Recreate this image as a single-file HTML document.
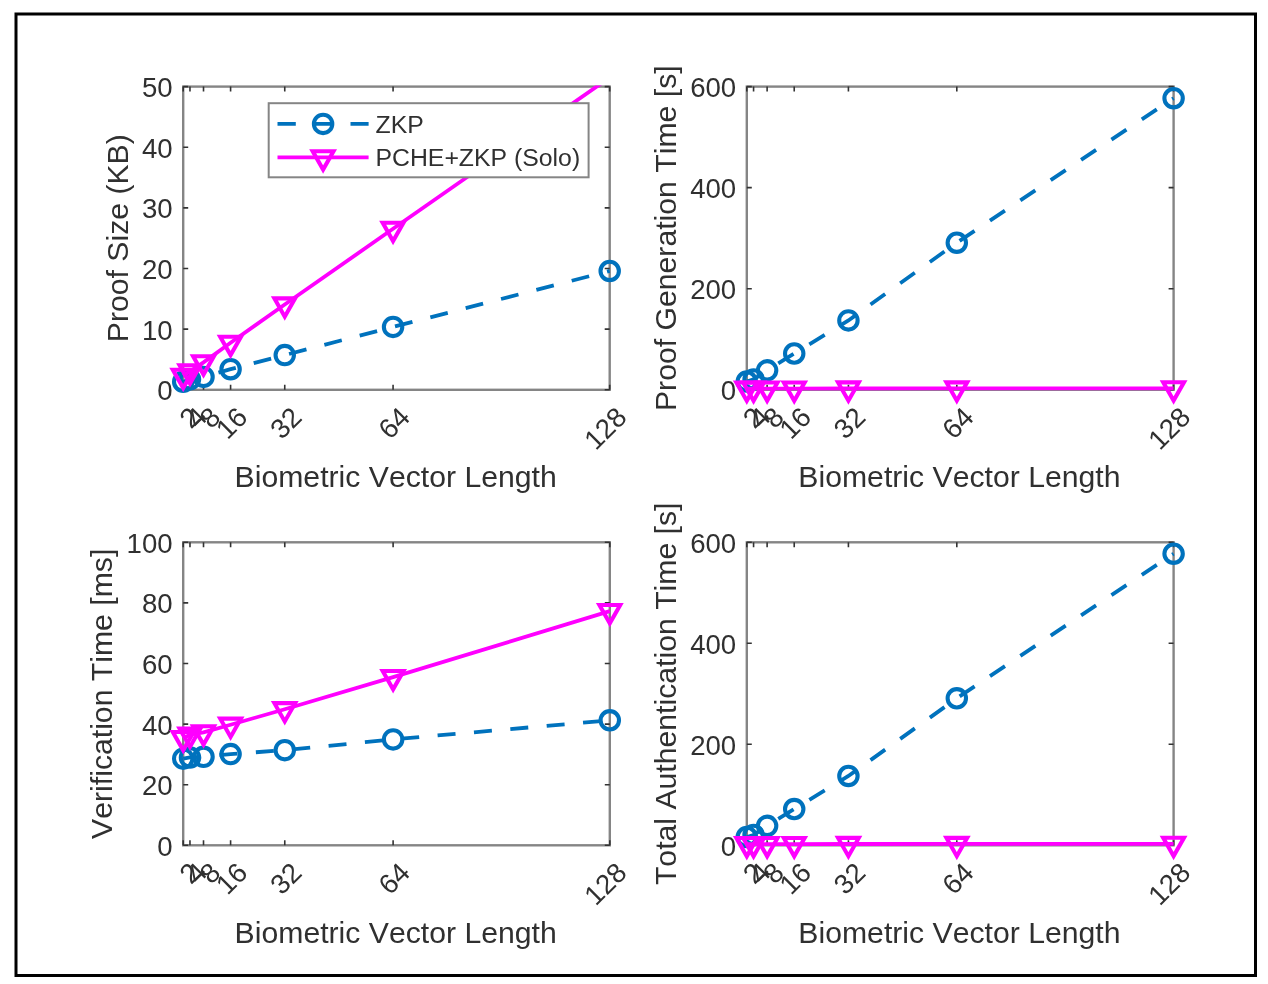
<!DOCTYPE html>
<html><head><meta charset="utf-8"><style>
html,body{margin:0;padding:0;background:#fff;width:1268px;height:984px;overflow:hidden}
svg{display:block;filter:blur(0.5px)}
text{font-family:"Liberation Sans",sans-serif;fill:#303030;font-kerning:none}
.t{font-size:27.6px}
.l{font-size:30.2px}
.g{font-size:24.8px}
</style></head><body>
<svg width="1268" height="984" viewBox="0 0 1268 984">
<rect x="0" y="0" width="1268" height="984" fill="#fff"/>
<rect x="16" y="14" width="1239.5" height="961.5" fill="none" stroke="#000" stroke-width="3"/>
<clipPath id="c0"><rect x="182.2" y="85.6" width="428.5" height="305.2"/></clipPath>
<rect x="183.2" y="86.6" width="426.5" height="303.2" fill="none" stroke="#858585" stroke-width="2.4"/>
<path d="M183.2 389.8v-5M183.2 86.6v5M189.97 389.8v-5M189.97 86.6v5M203.51 389.8v-5M203.51 86.6v5M230.59 389.8v-5M230.59 86.6v5M284.75 389.8v-5M284.75 86.6v5M393.07 389.8v-5M393.07 86.6v5M609.7 389.8v-5M609.7 86.6v5M183.2 389.8h5M609.7 389.8h-5M183.2 329.16h5M609.7 329.16h-5M183.2 268.52h5M609.7 268.52h-5M183.2 207.88h5M609.7 207.88h-5M183.2 147.24h5M609.7 147.24h-5M183.2 86.6h5M609.7 86.6h-5" stroke="#333" stroke-width="1.6" fill="none"/>
<text x="172.6" y="390.8" text-anchor="end" dominant-baseline="central" class="t">0</text>
<text x="172.6" y="330.16" text-anchor="end" dominant-baseline="central" class="t">10</text>
<text x="172.6" y="269.52" text-anchor="end" dominant-baseline="central" class="t">20</text>
<text x="172.6" y="208.88" text-anchor="end" dominant-baseline="central" class="t">30</text>
<text x="172.6" y="148.24" text-anchor="end" dominant-baseline="central" class="t">40</text>
<text x="172.6" y="87.6" text-anchor="end" dominant-baseline="central" class="t">50</text>
<text transform="translate(201.8 418.8) rotate(-45)" text-anchor="end" class="t">2</text>
<text transform="translate(208.57 418.8) rotate(-45)" text-anchor="end" class="t">4</text>
<text transform="translate(222.11 418.8) rotate(-45)" text-anchor="end" class="t">8</text>
<text transform="translate(249.19 418.8) rotate(-45)" text-anchor="end" class="t">16</text>
<text transform="translate(303.35 418.8) rotate(-45)" text-anchor="end" class="t">32</text>
<text transform="translate(411.67 418.8) rotate(-45)" text-anchor="end" class="t">64</text>
<text transform="translate(628.3 418.8) rotate(-45)" text-anchor="end" class="t">128</text>
<text x="395.65" y="487" text-anchor="middle" class="l">Biometric Vector Length</text>
<text transform="translate(127.5 238.2) rotate(-90)" text-anchor="middle" class="l">Proof Size (KB)</text>
<g clip-path="url(#c0)"><polyline points="183.2,381.8 189.97,379.37 203.51,376.88 230.59,369.18 284.75,355.11 393.07,326.92 609.7,270.95" fill="none" stroke="#0072BD" stroke-width="3.8" stroke-dasharray="18 18.5"/></g><g><circle cx="183.2" cy="381.8" r="9.2" fill="none" stroke="#0072BD" stroke-width="4.1"/><circle cx="189.97" cy="379.37" r="9.2" fill="none" stroke="#0072BD" stroke-width="4.1"/><circle cx="203.51" cy="376.88" r="9.2" fill="none" stroke="#0072BD" stroke-width="4.1"/><circle cx="230.59" cy="369.18" r="9.2" fill="none" stroke="#0072BD" stroke-width="4.1"/><circle cx="284.75" cy="355.11" r="9.2" fill="none" stroke="#0072BD" stroke-width="4.1"/><circle cx="393.07" cy="326.92" r="9.2" fill="none" stroke="#0072BD" stroke-width="4.1"/><circle cx="609.7" cy="270.95" r="9.2" fill="none" stroke="#0072BD" stroke-width="4.1"/></g><g clip-path="url(#c0)"><polyline points="183.2,375.85 189.97,371.3 203.51,362.33 230.59,342.8 284.75,304.48 393.07,228.8 609.7,77.5" fill="none" stroke="#FF00FF" stroke-width="3.8"/></g><g><path d="M172.8 369.75L193.6 369.75L183.2 388.05Z" fill="none" stroke="#FF00FF" stroke-width="4.1" stroke-linejoin="miter"/><path d="M179.57 365.2L200.37 365.2L189.97 383.5Z" fill="none" stroke="#FF00FF" stroke-width="4.1" stroke-linejoin="miter"/><path d="M193.11 356.23L213.91 356.23L203.51 374.53Z" fill="none" stroke="#FF00FF" stroke-width="4.1" stroke-linejoin="miter"/><path d="M220.19 336.7L240.99 336.7L230.59 355Z" fill="none" stroke="#FF00FF" stroke-width="4.1" stroke-linejoin="miter"/><path d="M274.35 298.38L295.15 298.38L284.75 316.68Z" fill="none" stroke="#FF00FF" stroke-width="4.1" stroke-linejoin="miter"/><path d="M382.67 222.7L403.47 222.7L393.07 241Z" fill="none" stroke="#FF00FF" stroke-width="4.1" stroke-linejoin="miter"/></g>
<rect x="268.7" y="103.2" width="319.9" height="74.1" fill="#fff" stroke="#858585" stroke-width="2"/>
<path d="M277.5 123.9H368.6" stroke="#0072BD" stroke-width="3.8" stroke-dasharray="18.3 18.2"/>
<circle cx="323.1" cy="123.9" r="9.2" fill="none" stroke="#0072BD" stroke-width="4.1"/>
<path d="M277.5 157.3H368.6" stroke="#FF00FF" stroke-width="3.8"/>
<path d="M312.7 151.2L333.5 151.2L323.1 169.5Z" fill="none" stroke="#FF00FF" stroke-width="4.1"/>
<text x="375.5" y="132.7" class="g">ZKP</text>
<text x="375.5" y="166.1" class="g">PCHE+ZKP (Solo)</text>
<clipPath id="c1"><rect x="745.8" y="85.6" width="428.8" height="305.2"/></clipPath>
<rect x="746.8" y="86.6" width="426.8" height="303.2" fill="none" stroke="#858585" stroke-width="2.4"/>
<path d="M746.8 389.8v-5M746.8 86.6v5M753.57 389.8v-5M753.57 86.6v5M767.12 389.8v-5M767.12 86.6v5M794.22 389.8v-5M794.22 86.6v5M848.42 389.8v-5M848.42 86.6v5M956.81 389.8v-5M956.81 86.6v5M1173.6 389.8v-5M1173.6 86.6v5M746.8 389.8h5M1173.6 389.8h-5M746.8 288.73h5M1173.6 288.73h-5M746.8 187.67h5M1173.6 187.67h-5M746.8 86.6h5M1173.6 86.6h-5" stroke="#333" stroke-width="1.6" fill="none"/>
<text x="736.2" y="390.8" text-anchor="end" dominant-baseline="central" class="t">0</text>
<text x="736.2" y="289.73" text-anchor="end" dominant-baseline="central" class="t">200</text>
<text x="736.2" y="188.67" text-anchor="end" dominant-baseline="central" class="t">400</text>
<text x="736.2" y="87.6" text-anchor="end" dominant-baseline="central" class="t">600</text>
<text transform="translate(765.4 418.8) rotate(-45)" text-anchor="end" class="t">2</text>
<text transform="translate(772.17 418.8) rotate(-45)" text-anchor="end" class="t">4</text>
<text transform="translate(785.72 418.8) rotate(-45)" text-anchor="end" class="t">8</text>
<text transform="translate(812.82 418.8) rotate(-45)" text-anchor="end" class="t">16</text>
<text transform="translate(867.02 418.8) rotate(-45)" text-anchor="end" class="t">32</text>
<text transform="translate(975.41 418.8) rotate(-45)" text-anchor="end" class="t">64</text>
<text transform="translate(1192.2 418.8) rotate(-45)" text-anchor="end" class="t">128</text>
<text x="959.4" y="487" text-anchor="middle" class="l">Biometric Vector Length</text>
<text transform="translate(676 238.2) rotate(-90)" text-anchor="middle" class="l">Proof Generation Time [s]</text>
<g clip-path="url(#c1)"><polyline points="746.8,381.46 753.57,379.44 767.12,370.34 794.22,353.52 848.42,320.42 956.81,242.7 1173.6,98.22" fill="none" stroke="#0072BD" stroke-width="3.8" stroke-dasharray="18 18.5"/></g><g><circle cx="746.8" cy="381.46" r="9.2" fill="none" stroke="#0072BD" stroke-width="4.1"/><circle cx="753.57" cy="379.44" r="9.2" fill="none" stroke="#0072BD" stroke-width="4.1"/><circle cx="767.12" cy="370.34" r="9.2" fill="none" stroke="#0072BD" stroke-width="4.1"/><circle cx="794.22" cy="353.52" r="9.2" fill="none" stroke="#0072BD" stroke-width="4.1"/><circle cx="848.42" cy="320.42" r="9.2" fill="none" stroke="#0072BD" stroke-width="4.1"/><circle cx="956.81" cy="242.7" r="9.2" fill="none" stroke="#0072BD" stroke-width="4.1"/><circle cx="1173.6" cy="98.22" r="9.2" fill="none" stroke="#0072BD" stroke-width="4.1"/></g><g clip-path="url(#c1)"><polyline points="746.8,388.54 753.57,388.54 767.12,388.54 794.22,388.54 848.42,388.49 956.81,388.44 1173.6,388.39" fill="none" stroke="#FF00FF" stroke-width="3.8"/></g><g><path d="M736.4 382.44L757.2 382.44L746.8 400.74Z" fill="none" stroke="#FF00FF" stroke-width="4.1" stroke-linejoin="miter"/><path d="M743.17 382.44L763.97 382.44L753.57 400.74Z" fill="none" stroke="#FF00FF" stroke-width="4.1" stroke-linejoin="miter"/><path d="M756.72 382.44L777.52 382.44L767.12 400.74Z" fill="none" stroke="#FF00FF" stroke-width="4.1" stroke-linejoin="miter"/><path d="M783.82 382.44L804.62 382.44L794.22 400.74Z" fill="none" stroke="#FF00FF" stroke-width="4.1" stroke-linejoin="miter"/><path d="M838.02 382.39L858.82 382.39L848.42 400.69Z" fill="none" stroke="#FF00FF" stroke-width="4.1" stroke-linejoin="miter"/><path d="M946.41 382.34L967.21 382.34L956.81 400.64Z" fill="none" stroke="#FF00FF" stroke-width="4.1" stroke-linejoin="miter"/><path d="M1163.2 382.29L1184 382.29L1173.6 400.59Z" fill="none" stroke="#FF00FF" stroke-width="4.1" stroke-linejoin="miter"/></g>
<clipPath id="c2"><rect x="182.2" y="541.3" width="428.6" height="305"/></clipPath>
<rect x="183.2" y="542.3" width="426.6" height="303" fill="none" stroke="#858585" stroke-width="2.4"/>
<path d="M183.2 845.3v-5M183.2 542.3v5M189.97 845.3v-5M189.97 542.3v5M203.51 845.3v-5M203.51 542.3v5M230.6 845.3v-5M230.6 542.3v5M284.77 845.3v-5M284.77 542.3v5M393.11 845.3v-5M393.11 542.3v5M609.8 845.3v-5M609.8 542.3v5M183.2 845.3h5M609.8 845.3h-5M183.2 784.7h5M609.8 784.7h-5M183.2 724.1h5M609.8 724.1h-5M183.2 663.5h5M609.8 663.5h-5M183.2 602.9h5M609.8 602.9h-5M183.2 542.3h5M609.8 542.3h-5" stroke="#333" stroke-width="1.6" fill="none"/>
<text x="172.6" y="846.3" text-anchor="end" dominant-baseline="central" class="t">0</text>
<text x="172.6" y="785.7" text-anchor="end" dominant-baseline="central" class="t">20</text>
<text x="172.6" y="725.1" text-anchor="end" dominant-baseline="central" class="t">40</text>
<text x="172.6" y="664.5" text-anchor="end" dominant-baseline="central" class="t">60</text>
<text x="172.6" y="603.9" text-anchor="end" dominant-baseline="central" class="t">80</text>
<text x="172.6" y="543.3" text-anchor="end" dominant-baseline="central" class="t">100</text>
<text transform="translate(201.8 874.3) rotate(-45)" text-anchor="end" class="t">2</text>
<text transform="translate(208.57 874.3) rotate(-45)" text-anchor="end" class="t">4</text>
<text transform="translate(222.11 874.3) rotate(-45)" text-anchor="end" class="t">8</text>
<text transform="translate(249.2 874.3) rotate(-45)" text-anchor="end" class="t">16</text>
<text transform="translate(303.37 874.3) rotate(-45)" text-anchor="end" class="t">32</text>
<text transform="translate(411.71 874.3) rotate(-45)" text-anchor="end" class="t">64</text>
<text transform="translate(628.4 874.3) rotate(-45)" text-anchor="end" class="t">128</text>
<text x="395.7" y="942.5" text-anchor="middle" class="l">Biometric Vector Length</text>
<text transform="translate(112 693.8) rotate(-90)" text-anchor="middle" class="l">Verification Time [ms]</text>
<g clip-path="url(#c2)"><polyline points="183.2,758.64 189.97,757.43 203.51,756.82 230.6,754.1 284.77,750.16 393.11,739.4 609.8,720.31" fill="none" stroke="#0072BD" stroke-width="3.8" stroke-dasharray="18 18.5"/></g><g><circle cx="183.2" cy="758.64" r="9.2" fill="none" stroke="#0072BD" stroke-width="4.1"/><circle cx="189.97" cy="757.43" r="9.2" fill="none" stroke="#0072BD" stroke-width="4.1"/><circle cx="203.51" cy="756.82" r="9.2" fill="none" stroke="#0072BD" stroke-width="4.1"/><circle cx="230.6" cy="754.1" r="9.2" fill="none" stroke="#0072BD" stroke-width="4.1"/><circle cx="284.77" cy="750.16" r="9.2" fill="none" stroke="#0072BD" stroke-width="4.1"/><circle cx="393.11" cy="739.4" r="9.2" fill="none" stroke="#0072BD" stroke-width="4.1"/><circle cx="609.8" cy="720.31" r="9.2" fill="none" stroke="#0072BD" stroke-width="4.1"/></g><g clip-path="url(#c2)"><polyline points="183.2,738.04 189.97,734.7 203.51,732.28 230.6,724.71 284.77,709.25 393.11,677.13 609.8,611.08" fill="none" stroke="#FF00FF" stroke-width="3.8"/></g><g><path d="M172.8 731.94L193.6 731.94L183.2 750.24Z" fill="none" stroke="#FF00FF" stroke-width="4.1" stroke-linejoin="miter"/><path d="M179.57 728.6L200.37 728.6L189.97 746.9Z" fill="none" stroke="#FF00FF" stroke-width="4.1" stroke-linejoin="miter"/><path d="M193.11 726.18L213.91 726.18L203.51 744.48Z" fill="none" stroke="#FF00FF" stroke-width="4.1" stroke-linejoin="miter"/><path d="M220.2 718.61L241 718.61L230.6 736.91Z" fill="none" stroke="#FF00FF" stroke-width="4.1" stroke-linejoin="miter"/><path d="M274.37 703.15L295.17 703.15L284.77 721.45Z" fill="none" stroke="#FF00FF" stroke-width="4.1" stroke-linejoin="miter"/><path d="M382.71 671.03L403.51 671.03L393.11 689.34Z" fill="none" stroke="#FF00FF" stroke-width="4.1" stroke-linejoin="miter"/><path d="M599.4 604.98L620.2 604.98L609.8 623.28Z" fill="none" stroke="#FF00FF" stroke-width="4.1" stroke-linejoin="miter"/></g>
<clipPath id="c3"><rect x="745.8" y="541.3" width="428.8" height="305"/></clipPath>
<rect x="746.8" y="542.3" width="426.8" height="303" fill="none" stroke="#858585" stroke-width="2.4"/>
<path d="M746.8 845.3v-5M746.8 542.3v5M753.57 845.3v-5M753.57 542.3v5M767.12 845.3v-5M767.12 542.3v5M794.22 845.3v-5M794.22 542.3v5M848.42 845.3v-5M848.42 542.3v5M956.81 845.3v-5M956.81 542.3v5M1173.6 845.3v-5M1173.6 542.3v5M746.8 845.3h5M1173.6 845.3h-5M746.8 744.3h5M1173.6 744.3h-5M746.8 643.3h5M1173.6 643.3h-5M746.8 542.3h5M1173.6 542.3h-5" stroke="#333" stroke-width="1.6" fill="none"/>
<text x="736.2" y="846.3" text-anchor="end" dominant-baseline="central" class="t">0</text>
<text x="736.2" y="745.3" text-anchor="end" dominant-baseline="central" class="t">200</text>
<text x="736.2" y="644.3" text-anchor="end" dominant-baseline="central" class="t">400</text>
<text x="736.2" y="543.3" text-anchor="end" dominant-baseline="central" class="t">600</text>
<text transform="translate(765.4 874.3) rotate(-45)" text-anchor="end" class="t">2</text>
<text transform="translate(772.17 874.3) rotate(-45)" text-anchor="end" class="t">4</text>
<text transform="translate(785.72 874.3) rotate(-45)" text-anchor="end" class="t">8</text>
<text transform="translate(812.82 874.3) rotate(-45)" text-anchor="end" class="t">16</text>
<text transform="translate(867.02 874.3) rotate(-45)" text-anchor="end" class="t">32</text>
<text transform="translate(975.41 874.3) rotate(-45)" text-anchor="end" class="t">64</text>
<text transform="translate(1192.2 874.3) rotate(-45)" text-anchor="end" class="t">128</text>
<text x="959.4" y="942.5" text-anchor="middle" class="l">Biometric Vector Length</text>
<text transform="translate(676 693.8) rotate(-90)" text-anchor="middle" class="l">Total Authentication Time [s]</text>
<g clip-path="url(#c3)"><polyline points="746.8,836.97 753.57,834.95 767.12,825.86 794.22,809.04 848.42,775.96 956.81,698.29 1173.6,553.71" fill="none" stroke="#0072BD" stroke-width="3.8" stroke-dasharray="18 18.5"/></g><g><circle cx="746.8" cy="836.97" r="9.2" fill="none" stroke="#0072BD" stroke-width="4.1"/><circle cx="753.57" cy="834.95" r="9.2" fill="none" stroke="#0072BD" stroke-width="4.1"/><circle cx="767.12" cy="825.86" r="9.2" fill="none" stroke="#0072BD" stroke-width="4.1"/><circle cx="794.22" cy="809.04" r="9.2" fill="none" stroke="#0072BD" stroke-width="4.1"/><circle cx="848.42" cy="775.96" r="9.2" fill="none" stroke="#0072BD" stroke-width="4.1"/><circle cx="956.81" cy="698.29" r="9.2" fill="none" stroke="#0072BD" stroke-width="4.1"/><circle cx="1173.6" cy="553.71" r="9.2" fill="none" stroke="#0072BD" stroke-width="4.1"/></g><g clip-path="url(#c3)"><polyline points="746.8,844.04 753.57,844.04 767.12,844.04 794.22,844.04 848.42,843.99 956.81,843.94 1173.6,843.89" fill="none" stroke="#FF00FF" stroke-width="3.8"/></g><g><path d="M736.4 837.94L757.2 837.94L746.8 856.24Z" fill="none" stroke="#FF00FF" stroke-width="4.1" stroke-linejoin="miter"/><path d="M743.17 837.94L763.97 837.94L753.57 856.24Z" fill="none" stroke="#FF00FF" stroke-width="4.1" stroke-linejoin="miter"/><path d="M756.72 837.94L777.52 837.94L767.12 856.24Z" fill="none" stroke="#FF00FF" stroke-width="4.1" stroke-linejoin="miter"/><path d="M783.82 837.94L804.62 837.94L794.22 856.24Z" fill="none" stroke="#FF00FF" stroke-width="4.1" stroke-linejoin="miter"/><path d="M838.02 837.89L858.82 837.89L848.42 856.19Z" fill="none" stroke="#FF00FF" stroke-width="4.1" stroke-linejoin="miter"/><path d="M946.41 837.84L967.21 837.84L956.81 856.14Z" fill="none" stroke="#FF00FF" stroke-width="4.1" stroke-linejoin="miter"/><path d="M1163.2 837.79L1184 837.79L1173.6 856.09Z" fill="none" stroke="#FF00FF" stroke-width="4.1" stroke-linejoin="miter"/></g>
</svg>
</body></html>
